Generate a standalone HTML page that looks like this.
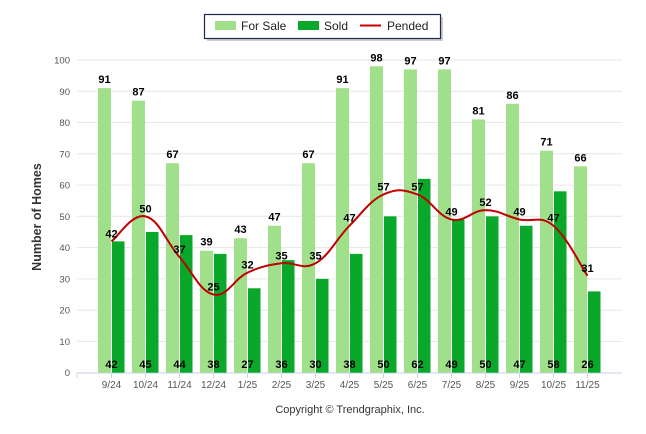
<!DOCTYPE html>
<html><head><meta charset="utf-8"><style>
body{margin:0;background:#fff;}
svg{display:block;font-family:"Liberation Sans",Arial,sans-serif;}
</style></head><body>
<svg id="s" width="646" height="434" xmlns="http://www.w3.org/2000/svg"></svg>
<script>
var fs=[91,87,67,39,43,47,67,91,98,97,97,81,86,71,66];
var sd=[42,45,44,38,27,36,30,38,50,62,49,50,47,58,26];
var pd=[42,50,37,25,32,35,35,47,57,57,49,52,49,47,31];
var cats=["9/24","10/24","11/24","12/24","1/25","2/25","3/25","4/25","5/25","6/25","7/25","8/25","9/25","10/25","11/25"];
function Y(v){return 372.7-3.127*v;}
function C(i){return 111.5+34*i;}
var h='';
// legend
h+='<rect x="207" y="17" width="236" height="24" fill="#999" opacity="0.5"/>';
h+='<rect x="204.5" y="14.5" width="236" height="24" fill="#fff" stroke="#1a2a55" stroke-width="1.2"/>';
h+='<rect x="215" y="21" width="21" height="9" fill="#a0e08a"/><text x="241" y="30" font-size="12" fill="#222">For Sale</text>';
h+='<rect x="298" y="21" width="21" height="9" fill="#0aa82a"/><text x="324" y="30" font-size="12" fill="#222">Sold</text>';
h+='<line x1="360" y1="25.5" x2="381" y2="25.5" stroke="#cc0000" stroke-width="2"/><text x="387" y="30" font-size="12" fill="#222">Pended</text>';
// grid
for(var v=0;v<=100;v+=10){var y=Y(v).toFixed(1);
 h+='<line x1="77" x2="622" y1="'+y+'" y2="'+y+'" stroke="#e6e6e6" stroke-width="1"/>';
 h+='<text x="70" y="'+(+y+3.5)+'" font-size="9.5" fill="#555" text-anchor="end">'+v+'</text>';}
h+='<line x1="77" x2="622" y1="373" y2="373" stroke="#ccd6eb" stroke-width="1"/>';
for(var i=0;i<15;i++){var c=C(i);
 h+='<line x1="'+c+'" x2="'+c+'" y1="373" y2="378" stroke="#ccd6eb"/>';
 h+='<text x="'+c+'" y="388" font-size="10" fill="#555" text-anchor="middle">'+cats[i]+'</text>';
 h+='<rect x="'+(c-13.5)+'" y="'+Y(fs[i])+'" width="13" height="'+(372.7-Y(fs[i]))+'" fill="#a0e08a"/>';
 h+='<rect x="'+(c+0.5)+'" y="'+Y(sd[i])+'" width="12.5" height="'+(372.7-Y(sd[i]))+'" fill="#0aa82a"/>';
}
h+='<line x1="77" x2="77" y1="373" y2="378" stroke="#ccd6eb"/>';
// spline
var P=pd.map(function(v,i){return [C(i),Y(v)];});
var d='M'+P[0][0]+','+P[0][1];
for(var i=0;i<P.length-1;i++){var p0=P[i>0?i-1:i],p1=P[i],p2=P[i+1],p3=P[i+2<P.length?i+2:i+1];
 var t=5;
 d+=' C'+(p1[0]+(p2[0]-p0[0])/t).toFixed(1)+','+(p1[1]+(p2[1]-p0[1])/t).toFixed(1)+' '+(p2[0]-(p3[0]-p1[0])/t).toFixed(1)+','+(p2[1]-(p3[1]-p1[1])/t).toFixed(1)+' '+p2[0]+','+p2[1];}
h+='<path d="'+d+'" fill="none" stroke="#c00000" stroke-width="2"/>';
for(var i=0;i<15;i++){var c=C(i);
 h+='<text x="'+(c-7)+'" y="'+(Y(fs[i])-5)+'" font-size="11" font-weight="bold" fill="#000" text-anchor="middle">'+fs[i]+'</text>';
 h+='<text x="'+c+'" y="'+(Y(pd[i])-4)+'" font-size="11" font-weight="bold" fill="#000" text-anchor="middle">'+pd[i]+'</text>';
 h+='<text x="'+c+'" y="368" font-size="11" font-weight="bold" fill="#000" text-anchor="middle">'+sd[i]+'</text>';
}
h+='<text transform="translate(41,217) rotate(-90)" font-size="12.5" font-weight="bold" fill="#333" text-anchor="middle">Number of Homes</text>';
h+='<text x="350" y="413" font-size="11" fill="#333" text-anchor="middle">Copyright © Trendgraphix, Inc.</text>';
document.getElementById('s').innerHTML=h;
</script>
</body></html>
